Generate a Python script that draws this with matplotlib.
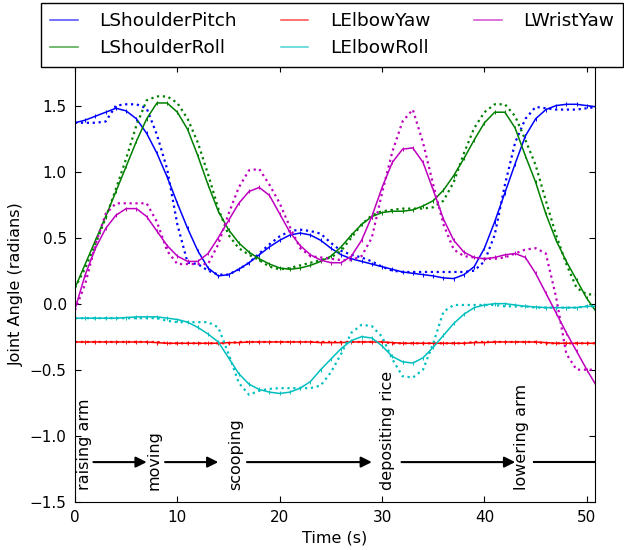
import numpy as np
import matplotlib
matplotlib.use('Agg')
import matplotlib.pyplot as plt

plt.rcParams['font.family'] = 'DejaVu Sans'

# sample times (s)
t = np.arange(52)

# measured joint angles (solid) and reference/target (dotted)
sh_pitch = [1.37, 1.39, 1.42, 1.45, 1.48, 1.46, 1.40, 1.29, 1.14, 0.96,
            0.76, 0.57, 0.40, 0.27, 0.21, 0.22, 0.26, 0.31, 0.37, 0.43,
            0.48, 0.52, 0.535, 0.52, 0.48, 0.42, 0.37, 0.34, 0.32, 0.30,
            0.28, 0.26, 0.24, 0.23, 0.22, 0.21, 0.195, 0.19, 0.22, 0.28,
            0.42, 0.62, 0.84, 1.06, 1.27, 1.40, 1.47, 1.50, 1.51, 1.51,
            1.50, 1.49]
sh_pitch_ref = [1.37, 1.37, 1.37, 1.38, 1.50, 1.51, 1.51, 1.48, 1.28, 1.02,
                0.60, 0.31, 0.30, 0.25, 0.22, 0.22, 0.26, 0.31, 0.38, 0.45,
                0.51, 0.55, 0.56, 0.55, 0.53, 0.46, 0.40, 0.37, 0.35, 0.32,
                0.28, 0.25, 0.24, 0.24, 0.24, 0.24, 0.24, 0.24, 0.24, 0.25,
                0.32, 0.52, 0.90, 1.22, 1.40, 1.49, 1.48, 1.47, 1.47, 1.47,
                1.48, 1.49]

sh_roll = [0.12, 0.30, 0.48, 0.66, 0.85, 1.04, 1.23, 1.40, 1.52, 1.52,
           1.45, 1.32, 1.12, 0.90, 0.70, 0.56, 0.46, 0.39, 0.34, 0.30,
           0.27, 0.26, 0.27, 0.29, 0.32, 0.36, 0.43, 0.52, 0.60, 0.66,
           0.69, 0.70, 0.70, 0.71, 0.74, 0.78, 0.86, 0.97, 1.10, 1.24,
           1.37, 1.45, 1.45, 1.33, 1.12, 0.92, 0.68, 0.48, 0.32, 0.18,
           0.04, -0.07]
sh_roll_ref = [0.12, 0.27, 0.45, 0.65, 0.87, 1.10, 1.35, 1.54, 1.57, 1.57,
               1.52, 1.40, 1.22, 0.98, 0.72, 0.52, 0.42, 0.37, 0.33, 0.28,
               0.26, 0.27, 0.29, 0.31, 0.33, 0.35, 0.40, 0.50, 0.60, 0.67,
               0.70, 0.71, 0.72, 0.72, 0.72, 0.73, 0.78, 0.92, 1.14, 1.33,
               1.45, 1.51, 1.51, 1.42, 1.24, 1.05, 0.78, 0.52, 0.30, 0.12,
               0.07, 0.07]

el_yaw = [-0.29, -0.29, -0.29, -0.29, -0.29, -0.29, -0.29, -0.29, -0.295, -0.30,
          -0.30, -0.30, -0.30, -0.30, -0.30, -0.295, -0.295, -0.29, -0.29, -0.29,
          -0.29, -0.29, -0.29, -0.29, -0.295, -0.295, -0.295, -0.29, -0.29, -0.29,
          -0.29, -0.295, -0.30, -0.30, -0.30, -0.30, -0.30, -0.30, -0.30, -0.295,
          -0.295, -0.29, -0.29, -0.29, -0.29, -0.29, -0.295, -0.30, -0.30, -0.30,
          -0.30, -0.30]
el_yaw_ref = [-0.29, -0.29, -0.29, -0.29, -0.29, -0.29, -0.29, -0.29, -0.29, -0.30,
              -0.30, -0.30, -0.30, -0.30, -0.30, -0.30, -0.29, -0.29, -0.29, -0.29,
              -0.29, -0.29, -0.29, -0.29, -0.29, -0.29, -0.29, -0.29, -0.29, -0.29,
              -0.29, -0.30, -0.30, -0.30, -0.30, -0.30, -0.30, -0.30, -0.30, -0.29,
              -0.29, -0.29, -0.29, -0.29, -0.29, -0.29, -0.30, -0.30, -0.30, -0.30,
              -0.30, -0.30]

el_roll = [-0.11, -0.11, -0.11, -0.11, -0.11, -0.105, -0.10, -0.10, -0.10, -0.11,
           -0.12, -0.14, -0.18, -0.23, -0.29, -0.41, -0.53, -0.61, -0.65, -0.67,
           -0.68, -0.67, -0.64, -0.59, -0.50, -0.42, -0.34, -0.28, -0.25, -0.26,
           -0.32, -0.40, -0.44, -0.45, -0.41, -0.33, -0.24, -0.15, -0.08, -0.03,
           -0.01, 0.0, 0.0, -0.01, -0.02, -0.025, -0.03, -0.03, -0.03, -0.03,
           -0.02, -0.02]
el_roll_ref = [-0.11, -0.11, -0.11, -0.11, -0.11, -0.11, -0.11, -0.11, -0.11, -0.13,
               -0.14, -0.14, -0.14, -0.14, -0.18, -0.38, -0.60, -0.69, -0.66, -0.645,
               -0.64, -0.64, -0.64, -0.64, -0.62, -0.52, -0.38, -0.22, -0.16, -0.17,
               -0.25, -0.42, -0.55, -0.56, -0.50, -0.30, -0.06, -0.01, -0.01, -0.01,
               -0.01, -0.01, -0.02, -0.02, -0.02, -0.03, -0.03, -0.03, -0.03, -0.03,
               -0.02, -0.02]

wr_yaw = [-0.04, 0.22, 0.42, 0.57, 0.67, 0.72, 0.72, 0.66, 0.55, 0.44,
          0.36, 0.32, 0.32, 0.38, 0.50, 0.63, 0.76, 0.85, 0.88, 0.82,
          0.68, 0.54, 0.44, 0.37, 0.33, 0.31, 0.31, 0.36, 0.48, 0.66,
          0.88, 1.07, 1.17, 1.18, 1.07, 0.86, 0.64, 0.48, 0.39, 0.35,
          0.34, 0.35, 0.37, 0.38, 0.35, 0.23, 0.08, -0.07, -0.22, -0.36,
          -0.50, -0.63]
wr_yaw_ref = [-0.05, 0.15, 0.45, 0.68, 0.76, 0.76, 0.76, 0.76, 0.62, 0.40,
              0.30, 0.30, 0.30, 0.30, 0.45, 0.68, 0.88, 1.01, 1.02, 0.90,
              0.76, 0.58, 0.42, 0.36, 0.35, 0.34, 0.33, 0.33, 0.36, 0.50,
              0.84, 1.15, 1.38, 1.47, 1.22, 0.90, 0.60, 0.41, 0.36, 0.35,
              0.34, 0.34, 0.35, 0.38, 0.41, 0.42, 0.38, 0.05, -0.38, -0.50,
              -0.50, -0.50]

names = ['LShoulderPitch', 'LShoulderRoll', 'LElbowYaw', 'LElbowRoll', 'LWristYaw']
colors = ['b', 'g', 'r', 'c', 'm']
measured = [sh_pitch, sh_roll, el_yaw, el_roll, wr_yaw]
targets = [sh_pitch_ref, sh_roll_ref, el_yaw_ref, el_roll_ref, wr_yaw_ref]

# task phases
phase_labels = ['raising arm', 'moving', 'scooping', 'depositing rice', 'lowering arm']
phase_x = [0.9, 7.7, 15.7, 30.5, 43.6]
arrow_start = [1.8, 8.8, 16.8, 31.9, 44.8]
arrow_end = [7.0, 14.0, 29.0, 43.0, 52.0]

fig = plt.figure(figsize=(6.24, 5.5), dpi=100, facecolor='white')
ax = fig.add_axes([0.1202, 0.0878, 0.8333, 0.7922])

handles = []
for name, c, y, yr in zip(names, colors, measured, targets):
    ax.plot(t, yr, linestyle=':', color=c, lw=1.6)
    h, = ax.plot(t, y, '-', color=c, lw=1.1, marker='|', ms=3, mew=0.7, label=name)
    handles.append(h)

for lab, x in zip(phase_labels, phase_x):
    ax.text(x, -1.41, lab, rotation=90, ha='center', va='bottom', fontsize=11.5)

for i, (x0, x1) in enumerate(zip(arrow_start, arrow_end)):
    if i < len(arrow_start) - 1:
        ax.annotate('', xy=(x1, -1.2), xytext=(x0, -1.2),
                    arrowprops=dict(arrowstyle='-|>', color='k', lw=1.5,
                                    mutation_scale=16, shrinkA=0, shrinkB=0))
    else:
        ax.plot([x0, x1], [-1.2, -1.2], 'k-', lw=1.5)

ax.set_xlim(0, 50.8)
ax.set_ylim(-1.5, 1.8)
ax.set_yticks([-1.5, -1.0, -0.5, 0.0, 0.5, 1.0, 1.5])
ax.set_xticks([0, 10, 20, 30, 40, 50])
ax.tick_params(direction='in', top=True, right=True, length=4, labelsize=11, pad=6)
ax.set_xlabel('Time (s)', fontsize=11.5)
ax.set_ylabel('Joint Angle (radians)', fontsize=11.5)

leg = fig.legend(handles=handles, loc='upper left', bbox_to_anchor=(41 / 624, 1 - 3 / 550),
                 borderaxespad=0, ncol=3, fontsize=13.3, handlelength=1.5,
                 handletextpad=1.15, columnspacing=2.38, labelspacing=0.5,
                 borderpad=0.5, fancybox=False, framealpha=1)
leg.get_frame().set_edgecolor('k')
for lh in leg.legend_handles:
    lh.set_marker('')
    lh.set_alpha(0.7)

fig.savefig('out.png', dpi=100, facecolor='white')
